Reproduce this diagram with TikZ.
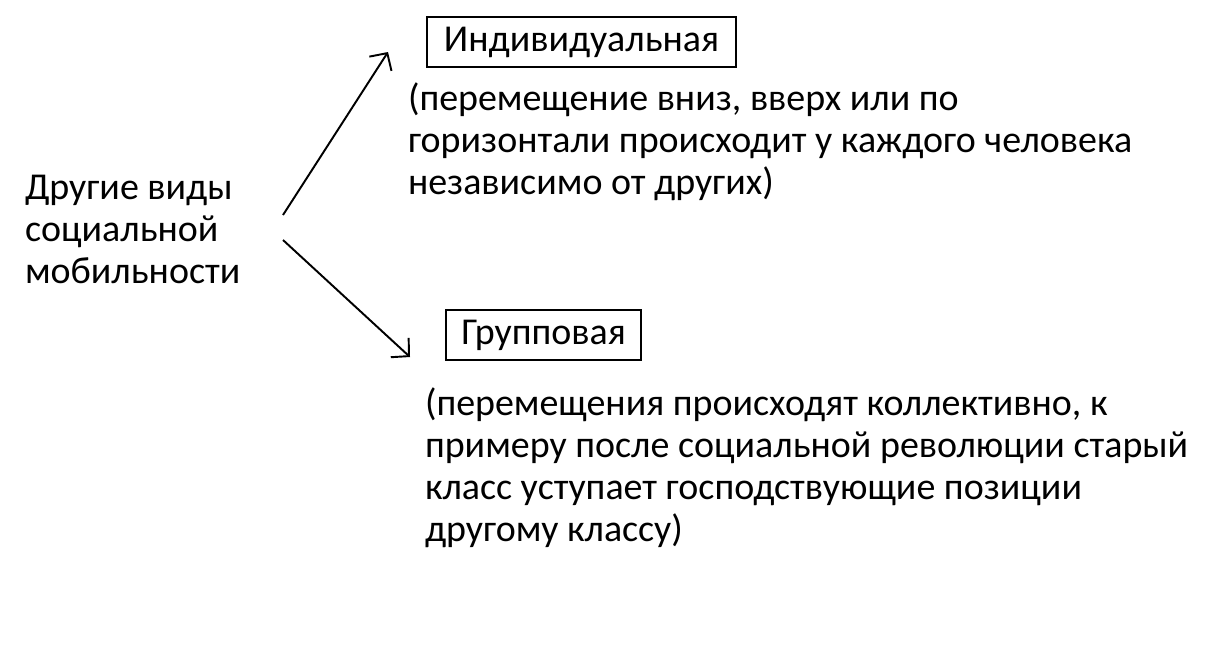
\documentclass[tikz,border=0pt]{standalone}
\usepackage{fontspec}
\setmainfont{Carlito}
\usetikzlibrary{arrows.meta}
\begin{document}
\begin{tikzpicture}[x=0.01cm,y=-0.01cm,
  txt/.style={inner sep=0pt,outer sep=0pt,align=left,anchor=north west,
    font=\fontsize{10.8}{11.95}\selectfont},
  boxed/.style={draw,line width=0.55pt,inner sep=0pt,
    font=\fontsize{10.8}{11.95}\selectfont},
  arr/.style={line width=0.55pt,-{Straight Barb[length=3.6pt,width=7.5pt]}}]
\useasboundingbox (0,0) rectangle (1212,660);
\node[txt] (main) at (25,175) {Другие виды\\социальной\\мобильности};
\node[boxed,minimum width=3.09cm,minimum height=0.50cm] (ind) at (581.5,42) {Индивидуальная};
\node[txt] (indtxt) at (408,83) {(перемещение вниз, вверх или по\\горизонтали происходит у каждого человека\\независимо от других)};
\node[boxed,minimum width=1.95cm,minimum height=0.50cm] (grp) at (543.5,335) {Групповая};
\node[txt] (grptxt) at (425,388) {(перемещения происходят коллективно, к\\примеру после социальной революции старый\\класс уступает господствующие позиции\\другому классу)};
\coordinate (s1) at (283,215);
\coordinate (e1) at (388,52);
\coordinate (s2) at (283,240);
\coordinate (e2) at (410,357);
\draw[arr] (s1) -- (e1);
\draw[arr] (s2) -- (e2);
\end{tikzpicture}
\end{document}
